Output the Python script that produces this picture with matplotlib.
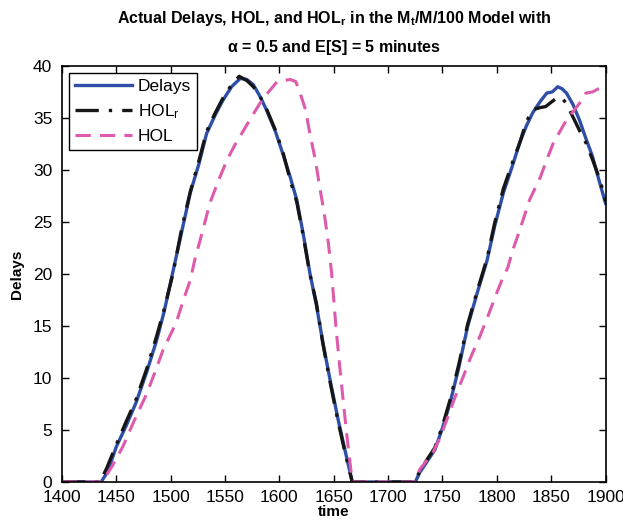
import matplotlib
matplotlib.use("Agg")
from matplotlib import pyplot as plt

# values
t_delay = [1400, 1436, 1442, 1450, 1459, 1468, 1478, 1487, 1494, 1502, 1510, 1518, 1526, 1533,
           1541, 1548, 1556, 1564, 1570, 1576, 1582, 1588, 1596, 1603, 1610, 1616, 1622, 1628,
           1634, 1640, 1647, 1654, 1660, 1667, 1725, 1729, 1736, 1743, 1750, 1757, 1765, 1773,
           1782, 1791, 1798, 1806, 1814, 1821, 1827, 1833, 1840, 1846, 1851, 1856, 1860, 1864,
           1870, 1876, 1882, 1888, 1894, 1900]
delays = [0, 0, 1.0, 3.4, 5.4, 7.6, 10.6, 13.6, 16.4, 20.2, 24.0, 27.8, 30.6, 33.5,
          35.3, 36.7, 38.0, 38.8, 38.7, 38.2, 37.1, 35.8, 33.8, 31.6, 29.3, 27.1, 23.8, 20.1,
          17.0, 13.4, 9.6, 6.0, 3.2, 0, 0, 0.9, 2.0, 3.1, 5.2, 7.6, 11.0, 14.9,
          18.2, 21.3, 24.6, 27.8, 30.3, 32.6, 34.2, 35.5, 36.6, 37.4, 37.5, 38.0, 37.8, 37.4,
          36.3, 34.8, 33.0, 31.3, 29.0, 26.8]

t_holr = [1400, 1435, 1441, 1450, 1459, 1468, 1478, 1487, 1494, 1502, 1510, 1518, 1526, 1533,
          1541, 1548, 1556, 1563, 1570, 1576, 1582, 1588, 1596, 1603, 1610, 1616, 1622, 1628,
          1634, 1640, 1647, 1654, 1660, 1667, 1724, 1729, 1736, 1743, 1750, 1757, 1765, 1773,
          1782, 1791, 1798, 1806, 1814, 1821, 1827, 1833, 1840, 1845, 1851, 1855, 1859, 1864,
          1870, 1876, 1882, 1888, 1895, 1900]
holr = [0, 0, 1.3, 3.6, 5.8, 7.9, 10.9, 14.0, 16.6, 20.0, 24.3, 27.9, 30.9, 33.7,
        35.5, 36.9, 38.2, 39.0, 38.6, 38.0, 37.1, 35.9, 33.9, 31.8, 29.0, 26.9, 23.6, 20.0,
        17.2, 13.3, 9.4, 5.8, 3.0, 0, 0, 1.0, 2.2, 3.3, 5.4, 7.9, 11.3, 15.1,
        18.4, 21.5, 24.9, 28.2, 30.6, 32.6, 34.6, 35.8, 36.0, 36.1, 36.6, 36.9, 37.0, 36.4,
        35.1, 33.8, 32.6, 31.0, 29.0, 27.0]

t_hol = [1400, 1437, 1446, 1456, 1466, 1478, 1486, 1493, 1505, 1512, 1518, 1522, 1529, 1536,
         1544, 1552, 1559, 1567, 1575, 1582, 1590, 1598, 1604, 1610, 1615, 1619, 1624, 1628,
         1633, 1637, 1641, 1645, 1648, 1652, 1655, 1658, 1662, 1667, 1725, 1729, 1735, 1741,
         1748, 1754, 1761, 1769, 1776, 1784, 1792, 1800, 1805, 1810, 1815, 1821, 1826, 1830,
         1835, 1840, 1846, 1852, 1858, 1864, 1870, 1876, 1882, 1888, 1895, 1900]
hol = [0, 0, 1.5, 3.4, 5.8, 8.5, 10.7, 12.7, 15.3, 17.6, 19.4, 21.3, 24.0, 26.8,
       29.0, 31.0, 32.4, 33.8, 35.2, 36.4, 37.5, 38.5, 38.6, 38.7, 38.5, 37.4, 35.8, 33.5,
       31.0, 28.4, 26.0, 23.0, 20.1, 14.9, 11.6, 8.5, 4.5, 0, 0, 1.2, 2.0, 2.8,
       4.3, 6.0, 8.0, 10.1, 12.0, 13.9, 16.0, 18.2, 19.5, 20.6, 22.4, 24.2, 25.8, 27.1,
       28.2, 29.3, 31.0, 32.6, 33.7, 34.8, 35.6, 36.4, 37.4, 37.5, 37.9, 37.7]

xticks = [1400, 1450, 1500, 1550, 1600, 1650, 1700, 1750, 1800, 1850, 1900]
yticks = [0, 5, 10, 15, 20, 25, 30, 35, 40]

plt.rcParams['font.family'] = ['Liberation Sans', 'DejaVu Sans']
plt.rcParams['mathtext.default'] = 'regular'

fig = plt.figure(figsize=(6.23, 5.23), dpi=100)
ax = fig.add_axes([0.0995, 0.0784, 0.8725, 0.7955])

ax.plot(t_delay, delays, color='#2f4fa6', lw=2.4, label='Delays')
ax.plot(t_holr, holr, color='#161616', lw=2.4, dashes=(7, 3, 1, 3), label='HOL$_r$')
ax.plot(t_hol, hol, color='#dd5aac', lw=2.2, dashes=(5, 3), label='HOL')

ax.set_xlim(1400, 1900)
ax.set_ylim(0, 40)
ax.set_xticks(xticks)
ax.set_yticks(yticks)
ax.tick_params(direction='in', top=True, right=True, length=5, width=1, labelsize=12.5)
ax.tick_params(axis='x', pad=6)
ax.tick_params(axis='y', pad=7)
for s in ax.spines.values():
    s.set_linewidth(1.2)

ax.set_xlabel('time', fontsize=11, fontweight='bold', labelpad=0)
ax.set_ylabel('Delays', fontsize=11, fontweight='bold', labelpad=6)
ax.set_title('Actual Delays, HOL, and HOL$_r$ in the M$_t$/M/100 Model with\n'
             '$\\alpha$ = 0.5 and E[S] = 5 minutes',
             fontsize=11.5, fontweight='bold', linespacing=1.7, pad=10)

leg = ax.legend(loc='upper left', fontsize=12.5, fancybox=False, framealpha=1,
                edgecolor='black', handlelength=3.3, borderpad=0.35, labelspacing=0.45,
                handletextpad=0.3, borderaxespad=0.4)
leg.get_frame().set_linewidth(1.0)

fig.savefig('out.png', dpi=100)
